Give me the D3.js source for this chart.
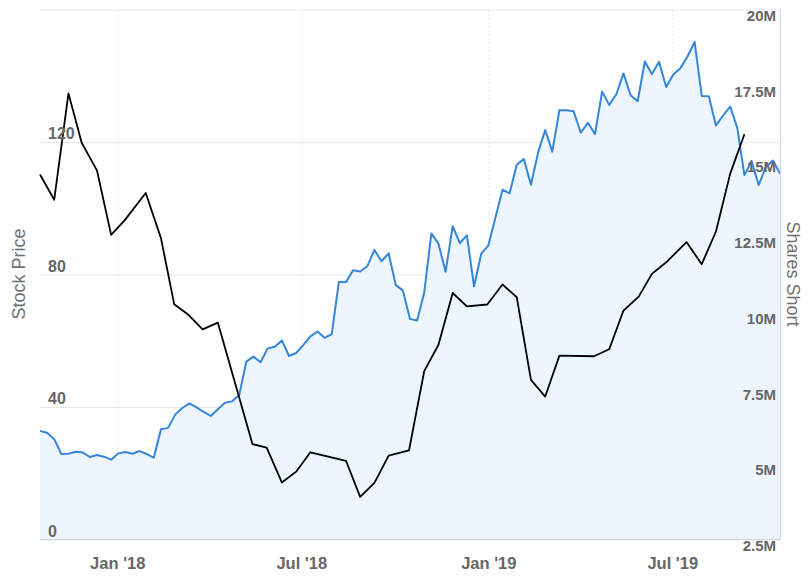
<!DOCTYPE html>
<html>
<head>
<meta charset="utf-8">
<script src="https://cdn.jsdelivr.net/npm/d3@7"></script>
<style>
  html, body { margin: 0; padding: 0; background: #fff; }
  svg { display: block; font-family: "Liberation Sans", Arial, Helvetica, sans-serif; }
</style>
</head>
<body>
<svg id="chart" width="809" height="578"></svg>
<script>
// ---------------- DATA ----------------
// Weekly stock price (left axis), starting 2017-10-17
const priceStart = "2017-10-17";
const priceValues = [
  32.8, 32.2, 30.3, 25.8, 25.9, 26.5, 26.3, 24.9, 25.5, 25.0,
  24.1, 26.0, 26.4, 25.9, 26.7, 25.8, 24.7, 33.3, 33.7, 37.7,
  39.7, 41.1, 39.9, 38.5, 37.3, 39.3, 41.3, 41.7, 43.6, 53.7,
  55.2, 53.5, 57.7, 58.2, 60.1, 55.4, 56.3, 58.7, 61.3, 62.8,
  60.9, 62.0, 77.7, 77.7, 81.3, 80.9, 82.5, 87.4, 84.0, 86.4,
  76.8, 75.2, 66.6, 66.1, 74.6, 92.4, 89.3, 80.8, 94.6, 89.5,
  91.8, 76.4, 86.2, 88.7, 97.1, 105.6, 104.5, 113.1, 114.9, 107.1,
  116.8, 123.6, 117.1, 129.6, 129.6, 129.3, 122.8, 125.8, 122.4, 135.2,
  131.2, 134.4, 140.7, 134.1, 132.3, 144.3, 140.5, 144.2, 136.6, 140.4,
  142.3, 145.8, 150.2, 133.9, 133.8, 125.0, 128.0, 130.7, 124.2, 110.0,
  114.3, 107.0, 112.4, 114.4, 110.5
];

// Shares short (right axis), millions
const shortDates = [
  "2017-10-17","2017-10-31","2017-11-14","2017-11-27","2017-12-12","2017-12-26",
  "2018-01-08","2018-01-29","2018-02-13","2018-02-26","2018-03-12","2018-03-26",
  "2018-04-10","2018-05-14","2018-05-28","2018-06-12","2018-06-26","2018-07-10",
  "2018-08-14","2018-08-28","2018-09-11","2018-09-25","2018-10-15","2018-10-30",
  "2018-11-13","2018-11-27","2018-12-11","2018-12-31","2019-01-15","2019-01-29",
  "2019-02-12","2019-02-26","2019-03-12","2019-04-15","2019-04-30","2019-05-14",
  "2019-05-29","2019-06-11","2019-06-26","2019-07-15","2019-07-30","2019-08-13",
  "2019-08-27","2019-09-10"
];
const shortValues = [
  14.55, 13.72, 17.23, 15.60, 14.69, 12.56,
  13.03, 13.94, 12.45, 10.27, 9.92, 9.44,
  9.66, 5.65, 5.53, 4.38, 4.74, 5.38,
  5.10, 3.91, 4.37, 5.27, 5.44, 8.06,
  8.93, 10.64, 10.20, 10.26, 10.92, 10.50,
  7.77, 7.22, 8.57, 8.55, 8.78, 10.06,
  10.52, 11.27, 11.68, 12.32, 11.59, 12.67,
  14.58, 15.88
];

const xDomain = ["2017-10-17", "2019-10-15"];
const xTickDates = ["2018-01-01", "2018-07-01", "2019-01-01", "2019-07-01"];
const xTickLabels = ["Jan '18", "Jul '18", "Jan '19", "Jul '19"];

const leftTicks = [0, 40, 80, 120, 160];
const leftTickLabels = ["0", "40", "80", "120", ""];

const rightTicks = [2.5, 5, 7.5, 10, 12.5, 15, 17.5, 20];
const rightTickLabels = ["2.5M", "5M", "7.5M", "10M", "12.5M", "15M", "17.5M", "20M"];

const leftTitle = "Stock Price";
const rightTitle = "Shares Short";

// ---------------- LAYOUT ----------------
const plotL = 40, plotR = 780, plotT = 9.5, plotB = 539.5;
const parse = d3.utcParse("%Y-%m-%d");

const priceData = priceValues.map((v, i) => ({ date: d3.utcDay.offset(parse(priceStart), i * 7), v }));
const shortData = shortDates.map((d, i) => ({ date: parse(d), v: shortValues[i] }));

const x = d3.scaleUtc().domain(xDomain.map(parse)).range([plotL, plotR]);
const yL = d3.scaleLinear().domain([0, 160]).range([plotB, plotT]);
const yR = d3.scaleLinear().domain([2.5, 20]).range([plotB, plotT]);

const svg = d3.select("#chart");
const labelColor = "#666666";

// Horizontal grid
const gy = svg.append("g")
  .attr("transform", `translate(${plotL},0)`)
  .call(d3.axisLeft(yL).tickValues(leftTicks).tickSize(-(plotR - plotL)).tickFormat(""));
gy.select(".domain").remove();
gy.selectAll(".tick line").attr("stroke", "#e6e6e6").attr("stroke-width", 1);

// Vertical dotted grid
const gx = svg.append("g")
  .attr("transform", `translate(0,${plotB})`)
  .call(d3.axisBottom(x).tickValues(xTickDates.map(parse)).tickSize(-(plotB - plotT)).tickFormat(""));
gx.select(".domain").remove();
gx.selectAll(".tick line").attr("stroke", "#cfcfcf").attr("stroke-width", 1).attr("stroke-dasharray", "1,3");

// Area + price line
svg.append("path")
  .datum(priceData)
  .attr("fill", "#edf6fe")
  .attr("d", d3.area().x(d => x(d.date)).y0(plotB).y1(d => yL(d.v)));

svg.append("path")
  .datum(priceData)
  .attr("fill", "none")
  .attr("stroke", "#3585da")
  .attr("stroke-width", 2)
  .attr("stroke-linejoin", "round")
  .attr("d", d3.line().x(d => x(d.date)).y(d => yL(d.v)));

// Shares short line
svg.append("path")
  .datum(shortData)
  .attr("fill", "none")
  .attr("stroke", "#000")
  .attr("stroke-width", 1.8)
  .attr("stroke-linejoin", "round")
  .attr("d", d3.line().x(d => x(d.date)).y(d => yR(d.v)));

// Axis lines
svg.append("line").attr("x1", plotL).attr("x2", plotR + 0.5).attr("y1", plotB).attr("y2", plotB)
  .attr("stroke", "#ccd6eb").attr("stroke-width", 1);
svg.append("line").attr("x1", plotR + 0.5).attr("x2", plotR + 0.5).attr("y1", plotT).attr("y2", plotB)
  .attr("stroke", "#ccd6eb").attr("stroke-width", 1);

// Left labels (inside plot, above gridline)
const la = svg.append("g")
  .call(d3.axisLeft(yL).tickValues(leftTicks).tickSize(0).tickFormat((d, i) => leftTickLabels[i]));
la.select(".domain").remove();
la.selectAll(".tick text")
  .attr("x", 48).attr("dy", null).attr("y", -3.5)
  .attr("text-anchor", "start")
  .attr("fill", labelColor).attr("font-size", "16px").attr("font-weight", "bold")
  .attr("font-family", "'Liberation Sans', Arial, sans-serif");

// Right labels
const ra = svg.append("g")
  .call(d3.axisRight(yR).tickValues(rightTicks).tickSize(0).tickFormat((d, i) => rightTickLabels[i]));
ra.select(".domain").remove();
ra.selectAll(".tick text")
  .attr("x", 776).attr("dy", null).attr("y", 11)
  .attr("text-anchor", "end")
  .attr("fill", labelColor).attr("font-size", "15px").attr("font-weight", "bold")
  .attr("font-family", "'Liberation Sans', Arial, sans-serif");

// Bottom labels
const ba = svg.append("g")
  .attr("transform", `translate(0,${plotB})`)
  .call(d3.axisBottom(x).tickValues(xTickDates.map(parse)).tickSize(0).tickFormat((d, i) => xTickLabels[i]));
ba.select(".domain").remove();
ba.selectAll(".tick text")
  .attr("dy", null).attr("y", 29)
  .attr("fill", labelColor).attr("font-size", "16.5px").attr("font-weight", "bold")
  .attr("font-family", "'Liberation Sans', Arial, sans-serif");

// Axis titles
svg.append("text")
  .attr("transform", `translate(25,274) rotate(-90)`)
  .attr("text-anchor", "middle")
  .attr("fill", "#707070").attr("font-size", "18px")
  .text(leftTitle);
svg.append("text")
  .attr("transform", `translate(787,274) rotate(90)`)
  .attr("text-anchor", "middle")
  .attr("fill", "#707070").attr("font-size", "18px")
  .text(rightTitle);
</script>
</body>
</html>
